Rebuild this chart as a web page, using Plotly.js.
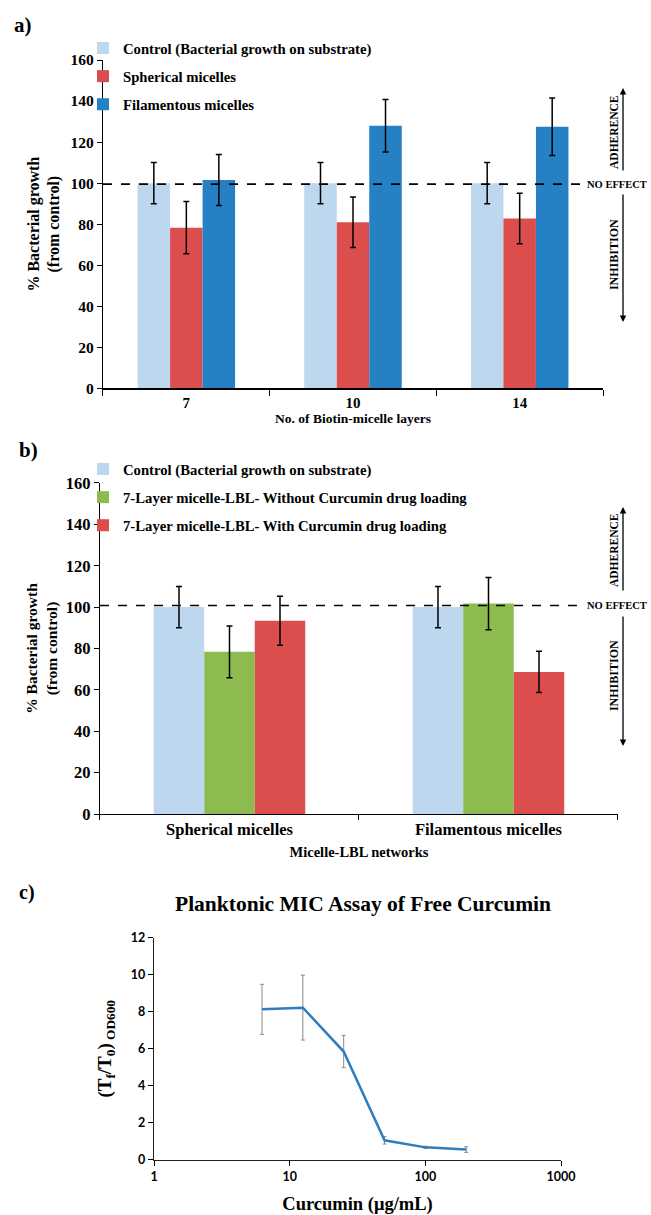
<!DOCTYPE html>
<html>
<head>
<meta charset="utf-8">
<script src="https://cdn.plot.ly/plotly-3.0.1.min.js"></script>
<style>html,body{margin:0;padding:0;background:#fff;}#chart{width:651px;height:1215px;}</style>
</head>
<body>
<div id="chart"></div>
<script>
// ---- Panel a data ----
const categoriesA = ['7', '10', '14'];
const controlA = [100, 100, 100];
const controlErrA = [10, 10, 10];
const sphericalA = [78.3, 80.9, 82.8];
const sphericalErrA = [12.7, 12.3, 12.3];
const filamentousA = [101.5, 128.0, 127.5];
const filamentousErrA = [12.4, 12.8, 14.0];

// ---- Panel b data ----
const categoriesB = ['Spherical micelles', 'Filamentous micelles'];
const controlB = [100, 100];
const controlErrB = [10, 10];
const withoutDrugB = [78.4, 101.7];
const withoutDrugErrB = [12.5, 12.6];
const withDrugB = [93.4, 68.7];
const withDrugErrB = [11.8, 10.0];

// ---- Panel c data ----
const curcuminConc = [6.25, 12.5, 25, 50, 100, 200];
const growthRatio = [8.13, 8.22, 5.85, 1.06, 0.68, 0.56];
const growthErr = [1.35, 1.75, 0.87, 0.2, 0.06, 0.15];
const xTickValsC = [1, 10, 100, 1000];
const xTickTextC = ['1', '10', '100', '1000'];

// ---- reference levels ----
const noEffectLevel = [99.5, 100.8];

const SERIF = '"Liberation Serif", "Times New Roman", serif';
const SANS = 'Lato, "Liberation Sans", sans-serif';
const C_CTRL = '#BDD7EE', C_RED = '#DC4E4E', C_BLUE = '#2581C4', C_GREEN = '#8DBB4F';

function eb(arr) { return {type: 'data', array: arr, visible: true, color: '#000', thickness: 1.5, width: 3}; }
function sf(size) { return {family: SERIF, size: size, weight: 'bold', color: '#000'}; }

const traces = [
  {type: 'bar', name: 'Control (Bacterial growth on substrate)', x: categoriesA, y: controlA, error_y: eb(controlErrA),
   marker: {color: C_CTRL}, xaxis: 'x', yaxis: 'y', legend: 'legend', legendgroup: 'a1'},
  {type: 'bar', name: 'Spherical micelles', x: categoriesA, y: sphericalA, error_y: eb(sphericalErrA),
   marker: {color: C_RED}, xaxis: 'x', yaxis: 'y', legend: 'legend', legendgroup: 'a2'},
  {type: 'bar', name: 'Filamentous micelles', x: categoriesA, y: filamentousA, error_y: eb(filamentousErrA),
   marker: {color: C_BLUE}, xaxis: 'x', yaxis: 'y', legend: 'legend', legendgroup: 'a3'},

  {type: 'bar', name: 'Control (Bacterial growth on substrate)', x: categoriesB, y: controlB, error_y: eb(controlErrB),
   marker: {color: C_CTRL}, xaxis: 'x2', yaxis: 'y2', legend: 'legend2', legendgroup: 'b1'},
  {type: 'bar', name: '7-Layer micelle-LBL- Without Curcumin drug loading', x: categoriesB, y: withoutDrugB, error_y: eb(withoutDrugErrB),
   marker: {color: C_GREEN}, xaxis: 'x2', yaxis: 'y2', legend: 'legend2', legendgroup: 'b2'},
  {type: 'bar', name: '7-Layer micelle-LBL- With Curcumin drug loading', x: categoriesB, y: withDrugB, error_y: eb(withDrugErrB),
   marker: {color: C_RED}, xaxis: 'x2', yaxis: 'y2', legend: 'legend2', legendgroup: 'b3'},

  {type: 'scatter', mode: 'lines', name: 'Free curcumin', x: curcuminConc, y: growthRatio,
   error_y: {type: 'data', array: growthErr, visible: true, color: '#8a8a8a', thickness: 1, width: 2},
   line: {color: '#2E7DC0', width: 2.5}, xaxis: 'x3', yaxis: 'y3', showlegend: false}
];

const baseAxis = {showline: true, linecolor: '#000', linewidth: 1.2, showgrid: false, zeroline: false,
  ticks: 'outside', tickcolor: '#000', tickwidth: 1, fixedrange: true};

const legendFont = sf(14.7);

function label(text, x, y, size, extra) {
  return Object.assign({text: text, xref: 'paper', yref: 'paper', x: x, y: y, xanchor: 'center', yanchor: 'middle',
    showarrow: false, font: sf(size)}, extra || {});
}
function arrow(x, y, ay) {
  return {text: '', xref: 'paper', yref: 'paper', x: x, y: y, ax: 0, ay: ay, showarrow: true,
    arrowhead: 2, arrowsize: 1, arrowwidth: 1.3, arrowcolor: '#000'};
}

const layout = {
  width: 651, height: 1215,
  margin: {l: 0, r: 0, t: 0, b: 0},
  paper_bgcolor: '#fff', plot_bgcolor: '#fff',
  barmode: 'group', bargap: 0.415, bargroupgap: 0,
  showlegend: true,
  legend: {x: 0.1275, y: 0.9737, xanchor: 'left', yanchor: 'top', font: legendFont,
           tracegroupgap: 6, bgcolor: 'rgba(0,0,0,0)', itemclick: false, itemdoubleclick: false},
  legend2: {x: 0.1275, y: 0.6272, xanchor: 'left', yanchor: 'top', font: legendFont,
            tracegroupgap: 6, bgcolor: 'rgba(0,0,0,0)', itemclick: false, itemdoubleclick: false},

  xaxis: Object.assign({}, baseAxis, {domain: [0.1582, 0.9263], anchor: 'y', type: 'category', tickson: 'boundaries', ticklen: 6,
    tickfont: sf(15),
    title: {text: 'No. of Biotin-micelle layers', font: sf(13.5), standoff: 2}}),
  yaxis: Object.assign({}, baseAxis, {domain: [0.6804, 0.9506], anchor: 'x', range: [0, 160], dtick: 20, ticklen: 5,
    tickfont: sf(15.5),
    title: {text: '% Bacterial growth<br>(from control)', font: sf(16), standoff: 6}}),

  xaxis2: Object.assign({}, baseAxis, {domain: [0.1536, 0.9493], anchor: 'y2', type: 'category', tickson: 'boundaries', ticklen: 5,
    tickfont: sf(16.5),
    title: {text: 'Micelle-LBL networks', font: sf(14.5), standoff: 8}}),
  yaxis2: Object.assign({}, baseAxis, {domain: [0.3300, 0.6025], anchor: 'x2', range: [0, 160], dtick: 20, ticklen: 5,
    tickfont: sf(16.5),
    title: {text: '% Bacterial growth<br>(from control)', font: sf(15.5), standoff: 4}}),

  xaxis3: Object.assign({}, baseAxis, {domain: [0.2366, 0.8618], anchor: 'y3', type: 'log', range: [0, 3], ticklen: 5,
    tickvals: xTickValsC, ticktext: xTickTextC, linecolor: '#222',
    tickfont: {family: SANS, size: 12.5, weight: 'bold', color: '#000'},
    title: {text: 'Curcumin (μg/mL)', font: sf(18.5), standoff: 14}}),
  yaxis3: Object.assign({}, baseAxis, {domain: [0.0453, 0.2283], anchor: 'x3', range: [0, 12], dtick: 2, ticklen: 5, linecolor: '#222',
    tickfont: {family: SANS, size: 12.5, weight: 'bold', color: '#000'},
    title: {text: '(T<sub>f</sub>/T<sub>0</sub>)<sub> OD600</sub>', font: sf(19), standoff: 14}}),

  shapes: [
    {type: 'line', xref: 'x domain', yref: 'y', x0: 0, x1: 0.954, y0: noEffectLevel[0], y1: noEffectLevel[0],
     line: {color: '#000', width: 1.6, dash: 'dash'}},
    {type: 'line', xref: 'x2 domain', yref: 'y2', x0: 0, x1: 0.929, y0: noEffectLevel[1], y1: noEffectLevel[1],
     line: {color: '#000', width: 1.4, dash: 'dash'}}
  ],

  annotations: [
    label('a)', 0.0353, 0.9794, 21),
    label('b)', 0.0445, 0.6296, 21),
    label('c)', 0.0415, 0.2658, 20),
    label('Planktonic MIC Assay of Free Curcumin', 0.5576, 0.256, 21.5),

    // panel a side labels
    {text: 'NO EFFECT', xref: 'paper', yref: 'y', x: 0.8986, y: noEffectLevel[0], xanchor: 'left', yanchor: 'middle',
     showarrow: false, font: sf(10.5)},
    label('ADHERENCE', 0.9432, 0.8914, 11.5, {textangle: -90}),
    label('INHIBITION', 0.9432, 0.7901, 12, {textangle: -90}),
    arrow(0.957, 0.9276, 84),
    arrow(0.957, 0.735, -129),

    // panel b side labels
    {text: 'NO EFFECT', xref: 'paper', yref: 'y2', x: 0.8986, y: noEffectLevel[1], xanchor: 'left', yanchor: 'middle',
     showarrow: false, font: sf(10.5)},
    label('ADHERENCE', 0.9432, 0.5473, 11.5, {textangle: -90}),
    label('INHIBITION', 0.9432, 0.4436, 12, {textangle: -90}),
    arrow(0.957, 0.5827, 85),
    arrow(0.957, 0.386, -131)
  ]
};

Plotly.newPlot('chart', traces, layout, {staticPlot: true, displayModeBar: false});
</script>
</body>
</html>
